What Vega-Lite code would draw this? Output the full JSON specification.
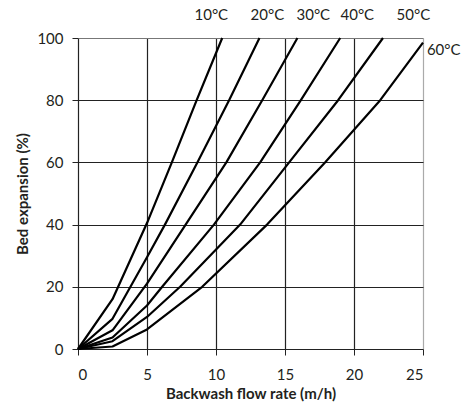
{
  "$schema": "https://vega.github.io/schema/vega-lite/v6.json",
  "width": 345,
  "height": 311,
  "autosize": {"type": "none"},
  "padding": {"left": 78, "top": 38, "right": 48, "bottom": 57},
  "background": "white",
  "config": {
    "view": {"stroke": null},
    "font": "Lato",
    "axis": {
      "labelFont": "Lato",
      "titleFont": "Lato",
      "labelFontSize": 15,
      "titleFontSize": 15,
      "titleFontWeight": "bold",
      "labelColor": "#231f20",
      "titleColor": "#231f20",
      "tickColor": "#222",
      "tickSize": 6,
      "domain": false,
      "gridOpacity": 1,
      "gridWidth": 1.2
    }
  },
  "datasets": {
    "curves": [
      {"t": "10°C", "rate": 0, "exp": 0},
      {"t": "10°C", "rate": 2.5, "exp": 16},
      {"t": "10°C", "rate": 5, "exp": 40.5},
      {"t": "10°C", "rate": 6.8, "exp": 60},
      {"t": "10°C", "rate": 8.6, "exp": 80},
      {"t": "10°C", "rate": 10.45, "exp": 100},
      {"t": "20°C", "rate": 0, "exp": 0},
      {"t": "20°C", "rate": 2.5, "exp": 9.7},
      {"t": "20°C", "rate": 5, "exp": 29.5},
      {"t": "20°C", "rate": 6.3, "exp": 40},
      {"t": "20°C", "rate": 8.65, "exp": 60},
      {"t": "20°C", "rate": 10.95, "exp": 80},
      {"t": "20°C", "rate": 13.15, "exp": 100},
      {"t": "30°C", "rate": 0, "exp": 0},
      {"t": "30°C", "rate": 2.5, "exp": 6},
      {"t": "30°C", "rate": 5, "exp": 21},
      {"t": "30°C", "rate": 7.8, "exp": 40},
      {"t": "30°C", "rate": 10.75, "exp": 60},
      {"t": "30°C", "rate": 13.35, "exp": 80},
      {"t": "30°C", "rate": 15.9, "exp": 100},
      {"t": "40°C", "rate": 0, "exp": 0},
      {"t": "40°C", "rate": 2.5, "exp": 3.7},
      {"t": "40°C", "rate": 5, "exp": 14},
      {"t": "40°C", "rate": 6.1, "exp": 20},
      {"t": "40°C", "rate": 9.85, "exp": 40},
      {"t": "40°C", "rate": 13.2, "exp": 60},
      {"t": "40°C", "rate": 16.15, "exp": 80},
      {"t": "40°C", "rate": 19.0, "exp": 100},
      {"t": "50°C", "rate": 0, "exp": 0},
      {"t": "50°C", "rate": 2.5, "exp": 2.5},
      {"t": "50°C", "rate": 5, "exp": 10.3},
      {"t": "50°C", "rate": 7.4, "exp": 20},
      {"t": "50°C", "rate": 11.75, "exp": 40},
      {"t": "50°C", "rate": 15.3, "exp": 60},
      {"t": "50°C", "rate": 18.85, "exp": 80},
      {"t": "50°C", "rate": 22.1, "exp": 100},
      {"t": "60°C", "rate": 0, "exp": 0},
      {"t": "60°C", "rate": 2.5, "exp": 0.8},
      {"t": "60°C", "rate": 5, "exp": 6.3},
      {"t": "60°C", "rate": 9.0, "exp": 20},
      {"t": "60°C", "rate": 13.7, "exp": 40},
      {"t": "60°C", "rate": 17.9, "exp": 60},
      {"t": "60°C", "rate": 21.9, "exp": 80},
      {"t": "60°C", "rate": 25, "exp": 98.5}
    ],
    "labels": [
      {"t": "10°C", "rate": 9.66, "exp": 107.5},
      {"t": "20°C", "rate": 13.72, "exp": 107.5},
      {"t": "30°C", "rate": 17.05, "exp": 107.5},
      {"t": "40°C", "rate": 20.24, "exp": 107.5},
      {"t": "50°C", "rate": 24.3, "exp": 107.5},
      {"t": "60°C", "rate": 26.5, "exp": 96.2}
    ]
  },
  "layer": [
    {
      "data": {"name": "curves"},
      "mark": {"type": "line", "color": "black", "strokeWidth": 2.2, "strokeJoin": "round"},
      "encoding": {
        "x": {
          "field": "rate", "type": "quantitative",
          "scale": {"domain": [0, 25], "nice": false},
          "axis": {
            "values": [0, 5, 10, 15, 20, 25],
            "title": "Backwash flow rate (m/h)",
            "grid": true,
            "gridColor": {"condition": {"test": "datum.value == 25", "value": "#aaaaaa"}, "value": "#222222"},
            "labelPadding": 12,
            "titlePadding": 4
          }
        },
        "y": {
          "field": "exp", "type": "quantitative",
          "scale": {"domain": [0, 100], "nice": false},
          "axis": {
            "values": [0, 20, 40, 60, 80, 100],
            "title": "Bed expansion (%)",
            "grid": true,
            "gridColor": {"condition": {"test": "datum.value == 100", "value": "#777777"}, "value": "#222222"},
            "labelPadding": 9,
            "titlePadding": 6
          }
        },
        "detail": {"field": "t", "type": "nominal"}
      }
    },
    {
      "data": {"name": "labels"},
      "mark": {"type": "text", "fontSize": 15, "color": "#231f20", "font": "Lato", "align": "center", "baseline": "middle"},
      "encoding": {
        "x": {"field": "rate", "type": "quantitative"},
        "y": {"field": "exp", "type": "quantitative"},
        "text": {"field": "t"}
      }
    }
  ]
}
